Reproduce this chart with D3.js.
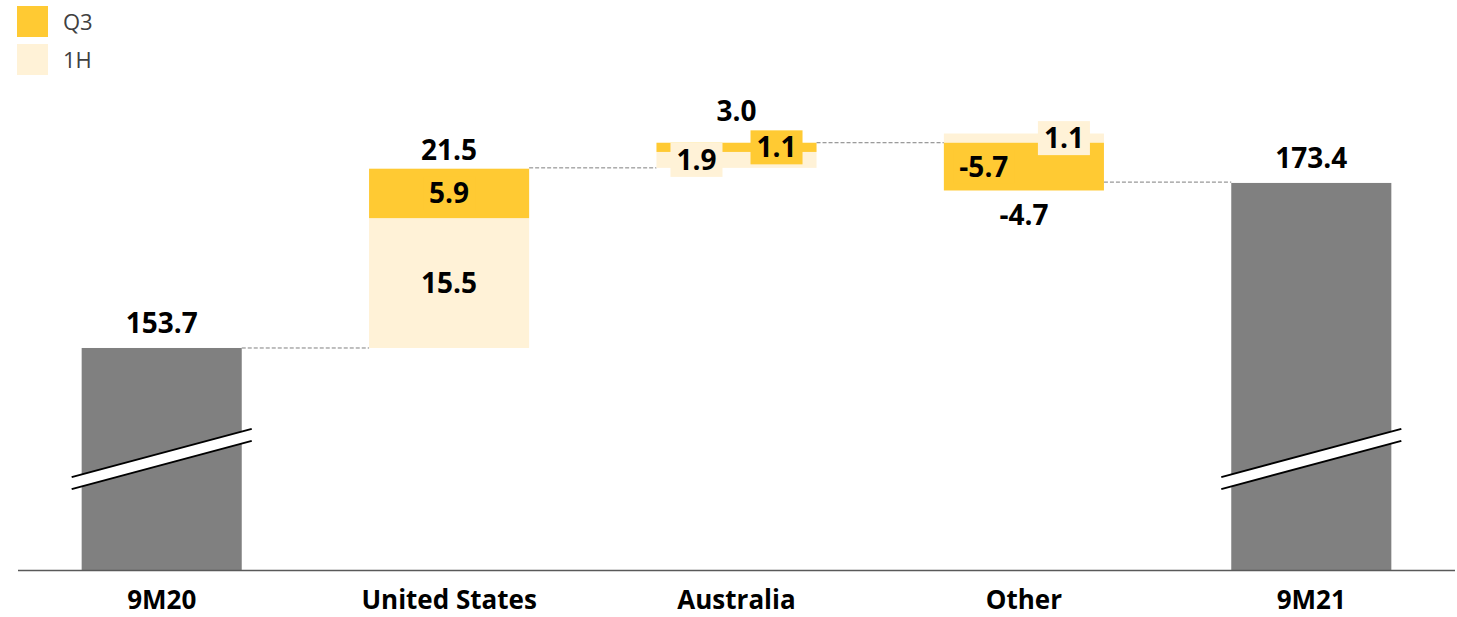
<!DOCTYPE html>
<html>
<head>
<meta charset="utf-8">
<script src="https://cdn.jsdelivr.net/npm/d3@7"></script>
<style>
  html, body { margin: 0; padding: 0; background: #fff; }
  svg { display: block; font-family: "Open Sans", "Noto Sans", sans-serif; }
</style>
</head>
<body>
<svg id="chart" width="1457" height="617"></svg>
<script>
// Bridge of 9M20 to 9M21, with the change per region split into 1H and Q3
const categories = ["9M20", "United States", "Australia", "Other", "9M21"];
const kinds      = ["total", "delta", "delta", "delta", "total"];
const totals     = [153.7, null, null, null, 173.4];
const firstHalf  = [null, 15.5, 1.9, 1.1, null];   // 1H
const thirdQ     = [null, 5.9, 1.1, -5.7, null];    // Q3
const changes    = [null, 21.5, 3.0, -4.7, null];   // stated change per region
const seriesNames = ["Q3", "1H"];

const colors = { q3: "#FFCA33", h1: "#FFF2D7", total: "#808080", text: "#000", legend: "#404040" };

// horizontal nudges for segment labels (in bandwidth units): centred for United States,
// side-by-side where the segments are too thin to hold text
const labelShift = {
  "United States": { h1: 0, q3: 0 },
  "Australia":     { h1: -0.25, q3: 0.25 },
  "Other":         { h1: 0.25, q3: -0.25 }
};

const W = 1457, H = 617;
const svg = d3.select("#chart");

const x = d3.scaleBand().domain(categories).range([18, 1455]).paddingInner(0.443).paddingOuter(0.2215);
const y = d3.scaleLinear().domain([127.2, 183.3]).range([570, 100]);
const bw = x.bandwidth();

// running level for each category
const rows = [];
let level = 0;
categories.forEach((c, i) => {
  if (kinds[i] === "total") {
    level = totals[i];
    rows.push({ c, kind: "total", value: totals[i], start: null, end: totals[i] });
  } else {
    const start = level;
    const segs = [];
    let up = start, down = start;
    [["h1", firstHalf[i]], ["q3", thirdQ[i]]].forEach(([k, v]) => {
      if (v >= 0) { segs.push({ k, v, y0: up, y1: up + v }); up += v; }
      else { segs.push({ k, v, y0: down, y1: down + v }); down += v; }
    });
    level = start + changes[i];
    rows.push({ c, kind: "delta", change: changes[i], start, end: level, segs, top: up, bottom: down });
  }
});

const g = svg.append("g");

// connectors between consecutive bars
for (let i = 0; i < rows.length - 1; i++) {
  const lv = rows[i].end;
  g.append("line")
    .attr("x1", x(rows[i].c) + bw).attr("x2", x(rows[i + 1].c))
    .attr("y1", y(lv)).attr("y2", y(lv))
    .attr("stroke", "#7f7f7f").attr("stroke-width", 1)
    .attr("stroke-dasharray", "4,2");
}

// total bars with axis-break marks
const breakValue = 140.45;
rows.filter(r => r.kind === "total").forEach(r => {
  const x0 = x(r.c);
  g.append("rect")
    .attr("x", x0).attr("y", y(r.value))
    .attr("width", bw).attr("height", y.range()[0] - y(r.value))
    .attr("fill", colors.total);
  const cx = x0 + bw / 2, cy = y(breakValue);
  const half = bw / 2 + 10, slope = 0.268, gap = 12;
  const yl = cy + half * slope, yr = cy - half * slope;
  g.append("path")
    .attr("d", `M${cx - half},${yl - gap / 2} L${cx + half},${yr - gap / 2} L${cx + half},${yr + gap / 2} L${cx - half},${yl + gap / 2} Z`)
    .attr("fill", "#fff");
  [-gap / 2, gap / 2].forEach(o => {
    g.append("line")
      .attr("x1", cx - half).attr("y1", yl + o)
      .attr("x2", cx + half).attr("y2", yr + o)
      .attr("stroke", "#000").attr("stroke-width", 2);
  });
});

// stacked change segments
rows.filter(r => r.kind === "delta").forEach(r => {
  r.segs.forEach(s => {
    g.append("rect")
      .attr("x", x(r.c))
      .attr("y", y(Math.max(s.y0, s.y1)))
      .attr("width", bw)
      .attr("height", Math.abs(y(s.y0) - y(s.y1)))
      .attr("fill", colors[s.k]);
  });
});

// segment labels sitting on a patch of their own series colour
const fmt = d3.formatLocale({ decimal: ".", thousands: ",", grouping: [3], currency: ["", ""], minus: "-" }).format(".1f");
const valueSize = 28, capH = valueSize * 0.714;
rows.filter(r => r.kind === "delta").forEach(r => {
  r.segs.forEach(s => {
    const cx = x(r.c) + bw / 2 + labelShift[r.c][s.k] * bw;
    const cy = (y(s.y0) + y(s.y1)) / 2;
    const t = g.append("text")
      .attr("x", cx).attr("y", cy + capH / 2)
      .attr("text-anchor", "middle")
      .attr("font-size", valueSize).attr("font-weight", 700)
      .attr("fill", colors.text)
      .text(fmt(s.v));
    const tw = t.node().getComputedTextLength();
    const bx = { x: cx - tw / 2 - 6, y: cy - capH / 2 - 7, w: tw + 12, h: capH + 14 };
    r.boxTop = Math.min(r.boxTop ?? Infinity, bx.y);
    g.insert("rect", "text")
      .attr("x", bx.x).attr("y", bx.y).attr("width", bx.w).attr("height", bx.h)
      .attr("fill", colors[s.k]);
  });
});

// totals and net change labels
rows.forEach(r => {
  const cx = x(r.c) + bw / 2;
  let by, txt;
  if (r.kind === "total") {
    by = y(r.value) - 15; txt = fmt(r.value);
  } else if (r.change >= 0) {
    by = Math.min(y(r.top), r.boxTop) - 9; txt = fmt(r.change);
  } else {
    by = y(r.bottom) + 15 + capH; txt = fmt(r.change);
  }
  g.append("text")
    .attr("x", cx).attr("y", by)
    .attr("text-anchor", "middle")
    .attr("font-size", valueSize).attr("font-weight", 700)
    .attr("fill", colors.text)
    .text(txt);
});

// category axis
g.append("line")
  .attr("x1", 18).attr("x2", 1455)
  .attr("y1", 570.5).attr("y2", 570.5)
  .attr("stroke", "#595959").attr("stroke-width", 1.5);
const xAxis = g.append("g").attr("transform", "translate(0,570)")
  .call(d3.axisBottom(x).tickSize(0).tickPadding(0));
xAxis.select(".domain").remove();
xAxis.selectAll("text")
  .attr("y", 39).attr("dy", 0)
  .attr("font-size", 26).attr("font-weight", 700)
  .attr("font-family", "\"Open Sans\", \"Noto Sans\", sans-serif")
  .attr("fill", colors.text);

// legend
const legend = svg.append("g");
seriesNames.forEach((name, i) => {
  const row = legend.append("g").attr("transform", `translate(17, ${6 + i * 38})`);
  row.append("rect").attr("width", 31).attr("height", 31)
    .attr("fill", name === "Q3" ? colors.q3 : colors.h1);
  row.append("text").attr("x", 46).attr("y", 24)
    .attr("font-size", 22).attr("fill", colors.legend)
    .text(name);
});
</script>
</body>
</html>
